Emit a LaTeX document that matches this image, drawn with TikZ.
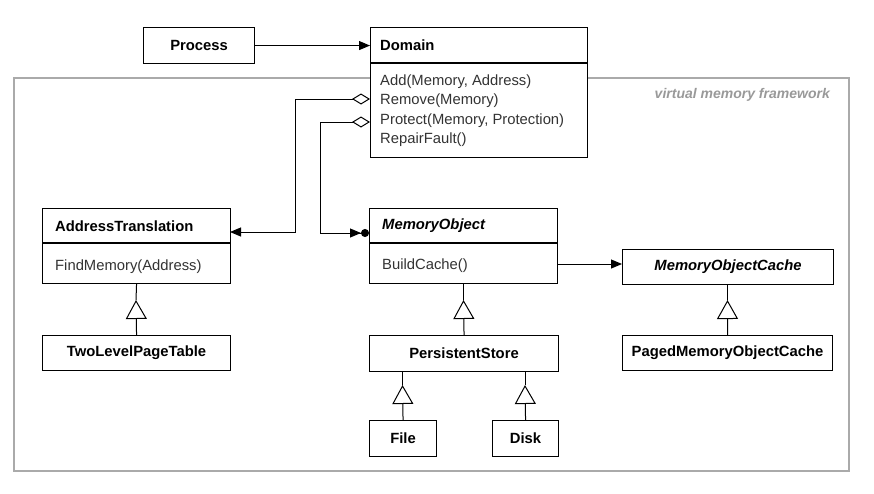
\documentclass[tikz,border=0pt]{standalone}
\usepackage{fontspec}
\setmainfont{Liberation Sans}
\usetikzlibrary{arrows.meta,calc}
\definecolor{optext}{HTML}{333333}
\definecolor{framegray}{HTML}{AAAAAA}
\definecolor{labelgray}{HTML}{999999}
\begin{document}
\begin{tikzpicture}[x=1pt,y=-1pt,
  cls/.style={draw, line width=1.1pt, fill=white, inner sep=0pt, anchor=north west,
              font=\fontsize{14.8}{18}\selectfont\bfseries},
  hdr/.style={inner sep=0pt, anchor=west, font=\fontsize{14.8}{18}\selectfont\bfseries},
  ops/.style={inner sep=0pt, anchor=west, text=optext, font=\fontsize{14.8}{18}\selectfont},
  divider/.style={line width=1.1pt},
  conn/.style={line width=1pt},
  assoc/.style={conn, -{Triangle[length=11pt,width=9pt]}},
  inh/.style={conn, -{Triangle[open,length=19pt,width=21pt]}}
]
\useasboundingbox (0,0) rectangle (874,493);

% framework frame
\node[draw=framegray, line width=2pt, minimum width=835pt, minimum height=393pt,
      anchor=north west, inner sep=0pt] (frame) at (13,77) {};
\node[anchor=east, inner sep=0pt, text=labelgray,
      font=\fontsize{14}{16}\selectfont\bfseries\itshape] (fwlabel) at (830,95) {virtual memory framework};

% classes
\node[cls, minimum width=111pt, minimum height=36pt] (Process) at (143,27) {Process};
\node[cls, minimum width=217pt, minimum height=130pt] (Domain) at (370,27) {};
\node[cls, minimum width=188pt, minimum height=75pt] (AT) at (42,208) {};
\node[cls, minimum width=188pt, minimum height=75pt] (MO) at (369,208) {};
\node[cls, minimum width=211pt, minimum height=35pt] (MOC) at (622,249) {\itshape MemoryObjectCache};
\node[cls, minimum width=188pt, minimum height=35pt] (TLPT) at (42,335) {TwoLevelPageTable};
\node[cls, minimum width=189pt, minimum height=36pt] (PS) at (369,335) {PersistentStore};
\node[cls, minimum width=210pt, minimum height=35pt] (PMOC) at (622,335) {PagedMemoryObjectCache};
\node[cls, minimum width=67pt, minimum height=36pt] (File) at (369,420) {File};
\node[cls, minimum width=66pt, minimum height=36pt] (Disk) at (492,420) {Disk};

% compartments
\draw[divider] ($(Domain.north west)+(0,36)$) -- ($(Domain.north east)+(0,36)$);
\draw[divider] ($(AT.north west)+(0,35)$) -- ($(AT.north east)+(0,35)$);
\draw[divider] ($(MO.north west)+(0,35)$) -- ($(MO.north east)+(0,35)$);

% texts
\node[hdr] (domName) at (380,45) {Domain};
\node[ops] (op1) at (380,81.5) {Add(Memory, Address)};
\node[ops] (op2) at (380,100.5) {Remove(Memory)};
\node[ops] (op3) at (380,121) {Protect(Memory, Protection)};
\node[ops] (op4) at (380,140) {RepairFault()};
\node[hdr] (atName) at (55,226) {AddressTranslation};
\node[ops] (atOp) at (55,266.5) {FindMemory(Address)};
\node[hdr, font=\fontsize{14.8}{18}\selectfont\bfseries\itshape] (moName) at (382,226) {MemoryObject};
\node[ops] (moOp) at (382,266) {BuildCache()};

% associations
\draw[assoc] (Process.east) -- (Process.east -| Domain.west);

\coordinate (remOut) at (370,99);
\coordinate (protOut) at (370,122);
\coordinate (atIn) at (230,232);
\coordinate (moIn) at (369,233);
\draw[conn, {Diamond[open,length=18pt,width=11pt]}-{Triangle[length=11pt,width=9pt]}]
  (remOut) -| (295,232) -- (atIn);
\draw[conn, {Diamond[open,length=18pt,width=11pt]}-{Triangle[length=11pt,width=9pt]Circle[length=8pt]}]
  (protOut) -| (320,233) -- (moIn);

\coordinate (bcOut) at (557,264);
\draw[assoc] (bcOut) -- (bcOut -| MOC.west);

% inheritance
\coordinate (atTri) at (136,300);
\draw[inh] (TLPT.north) -- (atTri);
\draw[conn] (atTri) -- (AT.south);

\coordinate (moTri) at (463.5,300);
\draw[inh] (PS.north) -- (moTri);
\draw[conn] (moTri) -- (moTri |- MO.south);

\coordinate (mocTri) at (727.5,300);
\draw[inh] (PMOC.north) -- (mocTri);
\draw[conn] (mocTri) -- (mocTri |- MOC.south);

\coordinate (fileTri) at (402.5,385);
\draw[inh] (File.north) -- (fileTri);
\draw[conn] (fileTri) -- (fileTri |- PS.south);

\coordinate (diskTri) at (525,385);
\draw[inh] (Disk.north) -- (diskTri);
\draw[conn] (diskTri) -- (diskTri |- PS.south);
\end{tikzpicture}
\end{document}
